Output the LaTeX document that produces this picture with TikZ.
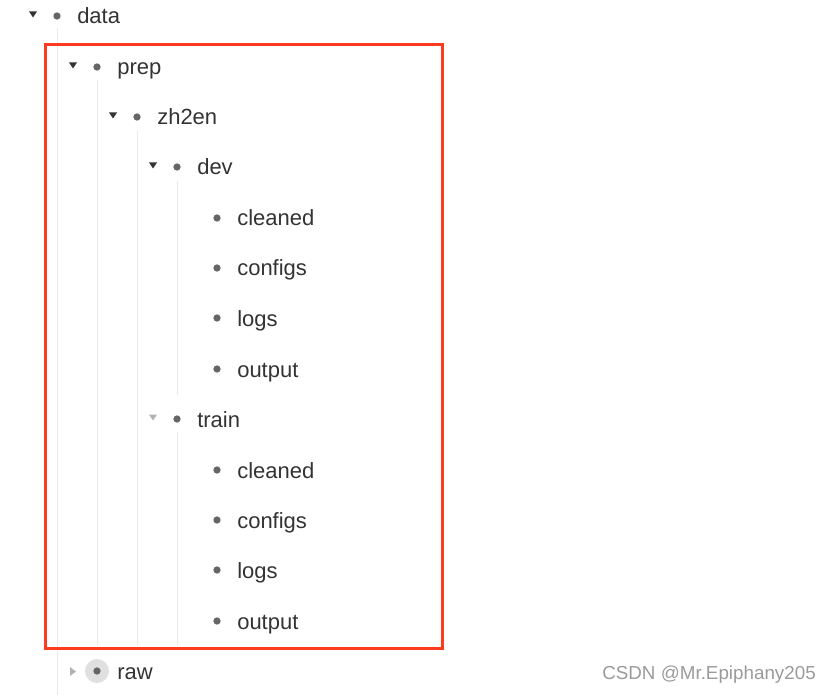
\documentclass[tikz,border=0pt]{standalone}
\usepackage{fontspec}
\setmainfont{Liberation Sans}
\definecolor{txt}{HTML}{333333}
\definecolor{bul}{HTML}{666666}
\definecolor{guide}{HTML}{EBEBEB}
\definecolor{redbox}{HTML}{FF3B1F}
\definecolor{wm}{HTML}{9A9A9A}
\begin{document}
\begin{tikzpicture}[x=0.75pt,y=-0.75pt,
  lbl/.style={anchor=base west,inner sep=0pt,text=txt,font=\fontsize{16.5}{18}\selectfont},
  bullet/.style={circle,fill=bul,inner sep=0pt,minimum size=5.5pt},
  guideline/.style={draw=guide,line width=0.75pt}]
\useasboundingbox (0,0) rectangle (831,695);
% guide lines
\draw[guideline] (57,28) -- (57,695);
\draw[guideline] (97,80) -- (97,646);
\draw[guideline] (137,130) -- (137,646);
\draw[guideline] (177,181) -- (177,395);
\draw[guideline] (177,432) -- (177,646);
% down triangles
\foreach \x/\y/\c in {33/14/txt,73/65/txt,113/115/txt,153/165/txt,153/417/gray!60}{
  \fill[\c] (\x-4,\y-2.5) -- (\x+4,\y-2.5) -- (\x,\y+3.5) -- cycle;}
% right triangle for raw
\fill[gray!60] (70,667) -- (76,671.5) -- (70,676) -- cycle;
% raw highlight
\fill[black!12] (97,671) circle (12);
% rows
\foreach \name/\lev/\y/\t in {data/0/16/data, prep/1/67/prep, zh/2/117/zh2en, dev/3/167/dev,
  c1/4/218/cleaned, f1/4/268/configs, l1/4/318/logs, o1/4/369/output,
  train/3/419/train, c2/4/470/cleaned, f2/4/520/configs, l2/4/570/logs, o2/4/621/output, raw/1/671/raw}{
  \node[bullet] (b\name) at ({57+40*\lev},\y) {};
  \node[lbl] (\name) at ({77+40*\lev},\y+8) {\t};
}
% red box
\draw[redbox,line width=2.25pt] (45,45) rectangle (442,648);
% watermark
\node[anchor=east,inner sep=0pt,text=wm,font=\fontsize{14.1}{16}\selectfont] (wmark) at (816,675) {CSDN @Mr.Epiphany205};
\end{tikzpicture}
\end{document}
